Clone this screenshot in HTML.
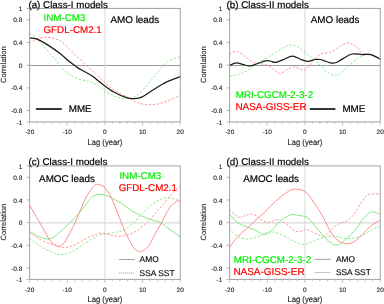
<!DOCTYPE html>
<html><head><meta charset="utf-8"><style>
html,body{margin:0;padding:0;background:#fff;width:384px;height:304px;overflow:hidden}
svg{display:block;will-change:transform}
text{font-family:"Liberation Sans",sans-serif;text-rendering:geometricPrecision}
.mt{font-size:9.8px;stroke-width:0.2px}
.mt2{font-size:9.85px;stroke-width:0.2px}
.mt3{font-size:9.95px;stroke-width:0.2px}
.lg{font-size:8.4px;stroke-width:0.15px}
.tk{font-size:6.5px;fill:#222;stroke:#222;stroke-width:0.12px}
.al{font-size:8.2px;fill:#222;stroke:#222;stroke-width:0.15px}
.al2{font-size:7.7px;fill:#222;stroke:#222;stroke-width:0.1px}
</style></head><body>
<svg width="384" height="304" viewBox="0 0 384 304">
<line x1="29.6" y1="65.5" x2="180.2" y2="65.5" stroke="#9a9a9a" stroke-width="1"/>
<line x1="104.89999999999999" y1="8.4" x2="104.89999999999999" y2="121.9" stroke="#d8d8d8" stroke-width="1"/>
<line x1="229.6" y1="65.5" x2="380.2" y2="65.5" stroke="#9a9a9a" stroke-width="1"/>
<line x1="304.9" y1="8.4" x2="304.9" y2="121.9" stroke="#d8d8d8" stroke-width="1"/>
<line x1="29.6" y1="222.9" x2="180.2" y2="222.9" stroke="#d0d0d0" stroke-width="1"/>
<line x1="104.89999999999999" y1="165.9" x2="104.89999999999999" y2="279.4" stroke="#d8d8d8" stroke-width="1"/>
<line x1="229.6" y1="222.9" x2="380.2" y2="222.9" stroke="#d0d0d0" stroke-width="1"/>
<line x1="304.9" y1="165.9" x2="304.9" y2="279.4" stroke="#d8d8d8" stroke-width="1"/>
<path d="M29.50 33.10 C30.63 33.97 33.42 35.52 36.30 38.30 C39.17 41.08 43.63 46.32 46.75 49.80 C49.87 53.28 52.58 56.33 55.00 59.20 C57.42 62.07 59.08 64.60 61.30 67.00 C63.52 69.40 65.39 71.60 68.30 73.60 C71.21 75.60 75.27 77.68 78.75 79.00 C82.23 80.32 86.08 80.47 89.20 81.50 C92.33 82.53 94.73 83.53 97.50 85.20 C100.27 86.87 102.67 89.58 105.80 91.50 C108.92 93.42 112.77 95.49 116.25 96.70 C119.73 97.91 123.92 98.58 126.70 98.75 C129.47 98.92 130.40 98.95 132.90 97.70 C135.40 96.45 138.15 94.75 141.70 91.25 C145.25 87.75 150.38 81.21 154.20 76.70 C158.02 72.19 161.97 66.90 164.60 64.20 C167.23 61.50 167.35 61.75 170.00 60.50 C172.65 59.25 178.75 57.33 180.50 56.70" fill="none" stroke="#8aea8a" stroke-width="1.0" stroke-dasharray="2.3 1.7" stroke-linejoin="round" stroke-opacity="1"/>
<path d="M29.50 43.60 C30.63 42.90 33.42 40.45 36.30 39.40 C39.17 38.35 43.27 37.30 46.75 37.30 C50.23 37.30 54.49 38.45 57.20 39.40 C59.91 40.35 60.87 41.25 63.00 43.00 C65.13 44.75 67.52 47.55 70.00 49.90 C72.48 52.25 75.27 54.58 77.90 57.10 C80.53 59.62 83.17 62.48 85.80 65.00 C88.43 67.52 91.07 69.78 93.70 72.20 C96.33 74.62 99.22 77.28 101.60 79.50 C103.98 81.72 105.56 83.50 108.00 85.50 C110.44 87.50 113.13 89.60 116.25 91.50 C119.37 93.40 123.16 95.03 126.70 96.90 C130.24 98.77 133.62 101.38 137.50 102.70 C141.38 104.02 145.83 104.80 150.00 104.80 C154.17 104.80 157.42 104.27 162.50 102.70 C167.58 101.13 177.50 96.62 180.50 95.40" fill="none" stroke="#ff9494" stroke-width="1.0" stroke-dasharray="2.3 1.7" stroke-linejoin="round" stroke-opacity="1"/>
<path d="M29.50 38.20 C30.63 38.32 33.08 37.67 36.30 38.90 C39.52 40.13 44.63 43.00 48.80 45.60 C52.97 48.20 58.05 51.97 61.30 54.50 C64.55 57.03 66.18 59.05 68.30 60.80 C70.42 62.55 72.40 63.82 74.00 65.00 C75.60 66.18 75.93 66.70 77.90 67.90 C79.87 69.10 83.28 70.77 85.80 72.20 C88.32 73.63 90.35 74.60 93.00 76.50 C95.65 78.40 98.17 80.97 101.70 83.60 C105.23 86.23 110.03 89.95 114.20 92.30 C118.37 94.65 123.40 96.65 126.70 97.70 C130.00 98.75 131.50 98.70 134.00 98.60 C136.50 98.50 138.33 98.67 141.70 97.10 C145.07 95.53 150.03 91.73 154.20 89.20 C158.37 86.67 162.32 83.98 166.70 81.90 C171.08 79.82 178.20 77.57 180.50 76.70" fill="none" stroke="#1c1c1c" stroke-width="1.25" stroke-linejoin="round" stroke-opacity="1"/>
<path d="M229.50 76.25 C231.33 75.83 237.28 74.86 240.50 73.75 C243.72 72.64 246.02 71.34 248.80 69.60 C251.58 67.86 253.67 65.60 257.20 63.30 C260.73 61.00 266.55 57.82 270.00 55.80 C273.45 53.78 275.27 52.73 277.90 51.20 C280.53 49.67 283.62 47.63 285.80 46.60 C287.98 45.57 289.03 45.00 291.00 45.00 C292.97 45.00 295.40 45.47 297.60 46.60 C299.80 47.73 302.00 50.05 304.20 51.80 C306.40 53.55 308.38 55.12 310.80 57.10 C313.22 59.08 316.33 61.48 318.70 63.70 C321.07 65.92 323.03 68.68 325.00 70.40 C326.97 72.12 328.77 73.18 330.50 74.00 C332.23 74.82 333.73 75.37 335.40 75.30 C337.07 75.23 338.77 74.68 340.50 73.60 C342.23 72.52 343.18 71.20 345.80 68.80 C348.43 66.40 353.12 61.57 356.25 59.20 C359.38 56.83 361.83 55.37 364.60 54.60 C367.38 53.83 370.25 53.83 372.90 54.60 C375.55 55.37 379.23 58.43 380.50 59.20" fill="none" stroke="#8aea8a" stroke-width="1.0" stroke-dasharray="2.3 1.7" stroke-linejoin="round" stroke-opacity="1"/>
<path d="M229.50 54.60 C230.63 54.04 233.77 51.02 236.30 51.25 C238.83 51.48 241.92 54.16 244.70 56.00 C247.48 57.84 250.23 61.01 253.00 62.30 C255.77 63.59 258.47 63.08 261.30 63.75 C264.13 64.42 267.67 65.11 270.00 66.30 C272.33 67.49 273.55 69.70 275.30 70.90 C277.05 72.10 278.53 73.72 280.50 73.50 C282.47 73.28 284.90 70.68 287.10 69.60 C289.30 68.52 291.72 67.18 293.70 67.00 C295.68 66.82 297.25 67.95 299.00 68.50 C300.75 69.05 302.45 70.77 304.20 70.30 C305.95 69.83 307.75 67.57 309.50 65.70 C311.25 63.83 312.82 61.05 314.70 59.10 C316.58 57.15 318.04 55.20 320.80 54.00 C323.56 52.80 328.12 53.12 331.25 51.90 C334.38 50.68 336.83 48.20 339.60 46.70 C342.38 45.20 345.12 42.90 347.90 42.90 C350.67 42.90 353.82 45.03 356.25 46.70 C358.68 48.37 360.07 51.58 362.50 52.90 C364.93 54.22 367.80 53.55 370.80 54.60 C373.80 55.65 378.88 58.43 380.50 59.20" fill="none" stroke="#ff9494" stroke-width="1.0" stroke-dasharray="2.3 1.7" stroke-linejoin="round" stroke-opacity="1"/>
<path d="M229.50 65.40 C230.63 64.98 234.12 63.07 236.30 62.90 C238.48 62.73 240.33 63.88 242.60 64.40 C244.87 64.92 247.47 66.11 249.90 66.00 C252.33 65.89 254.60 64.62 257.20 63.75 C259.80 62.88 263.37 61.26 265.50 60.80 C267.63 60.34 268.32 60.73 270.00 61.00 C271.68 61.27 273.40 62.62 275.60 62.40 C277.80 62.18 280.40 60.77 283.20 59.70 C286.00 58.63 289.33 56.00 292.40 56.00 C295.47 56.00 298.97 58.82 301.60 59.70 C304.23 60.58 306.02 61.33 308.20 61.30 C310.38 61.27 312.73 59.80 314.70 59.50 C316.67 59.20 318.28 59.25 320.00 59.50 C321.72 59.75 323.42 60.48 325.00 61.00 C326.58 61.52 328.12 62.23 329.50 62.60 C330.88 62.97 331.97 63.30 333.30 63.20 C334.63 63.10 336.10 62.63 337.50 62.00 C338.90 61.37 339.28 60.73 341.70 59.40 C344.12 58.07 348.53 54.80 352.00 54.00 C355.47 53.20 359.37 54.50 362.50 54.60 C365.63 54.70 367.80 53.83 370.80 54.60 C373.80 55.37 378.88 58.43 380.50 59.20" fill="none" stroke="#1c1c1c" stroke-width="1.25" stroke-linejoin="round" stroke-opacity="1"/>
<path d="M29.50 238.50 C31.33 239.79 36.93 244.05 40.50 246.25 C44.07 248.45 47.43 250.31 50.90 251.70 C54.37 253.09 57.82 254.60 61.30 254.60 C64.77 254.60 67.92 253.51 71.75 251.70 C75.58 249.89 80.08 246.37 84.25 243.75 C88.42 241.13 94.12 237.51 96.75 236.00 C99.38 234.49 98.14 235.10 100.00 234.70 C101.86 234.30 105.27 234.00 107.90 233.60 C110.53 233.20 112.90 233.03 115.80 232.30 C118.70 231.57 122.13 231.03 125.30 229.20 C128.47 227.37 131.90 223.93 134.80 221.30 C137.70 218.67 140.07 215.98 142.70 213.40 C145.33 210.82 148.33 207.80 150.60 205.80 C152.87 203.80 154.30 202.57 156.30 201.40 C158.30 200.23 160.67 199.42 162.60 198.80 C164.53 198.18 166.13 197.70 167.90 197.70 C169.67 197.70 171.10 198.23 173.20 198.80 C175.30 199.37 179.28 200.72 180.50 201.10" fill="none" stroke="#8aea8a" stroke-width="1.0" stroke-dasharray="2.3 1.7" stroke-linejoin="round" stroke-opacity="1"/>
<path d="M29.50 232.30 C31.33 233.52 36.58 237.52 40.50 239.60 C44.42 241.68 49.18 243.48 53.00 244.80 C56.82 246.12 59.93 247.40 63.40 247.50 C66.87 247.60 69.98 246.90 73.80 245.40 C77.62 243.90 82.47 240.40 86.30 238.50 C90.12 236.60 93.97 234.88 96.75 234.00 C99.53 233.12 100.88 233.08 103.00 233.20 C105.12 233.32 106.83 234.18 109.50 234.70 C112.17 235.22 115.85 236.30 119.00 236.30 C122.15 236.30 125.25 235.75 128.40 234.70 C131.55 233.65 134.73 232.10 137.90 230.00 C141.07 227.90 144.50 224.87 147.40 222.10 C150.30 219.33 153.20 215.72 155.30 213.40 C157.40 211.08 158.63 209.77 160.00 208.20 C161.37 206.63 161.77 206.12 163.50 204.00 C165.23 201.88 168.33 197.90 170.40 195.50 C172.47 193.10 174.22 191.05 175.90 189.60 C177.58 188.15 179.73 187.27 180.50 186.80" fill="none" stroke="#ff9494" stroke-width="1.0" stroke-dasharray="2.3 1.7" stroke-linejoin="round" stroke-opacity="1"/>
<path d="M29.50 231.25 C30.98 232.12 35.82 235.28 38.40 236.50 C40.98 237.72 42.92 238.27 45.00 238.60 C47.08 238.93 48.87 239.20 50.90 238.50 C52.93 237.80 54.77 236.32 57.20 234.40 C59.63 232.48 62.73 229.61 65.50 227.00 C68.27 224.39 71.02 221.68 73.80 218.75 C76.58 215.82 79.42 212.78 82.20 209.40 C84.98 206.03 88.08 200.97 90.50 198.50 C92.92 196.03 95.00 195.30 96.75 194.60 C98.50 193.90 99.62 194.23 101.00 194.30 C102.38 194.37 103.35 194.47 105.00 195.00 C106.65 195.53 108.15 196.08 110.90 197.50 C113.65 198.92 118.11 201.33 121.50 203.50 C124.89 205.67 127.88 208.42 131.25 210.50 C134.62 212.58 138.57 214.52 141.70 216.00 C144.82 217.48 146.87 218.30 150.00 219.40 C153.13 220.50 157.33 221.02 160.50 222.60 C163.67 224.18 165.67 226.50 169.00 228.90 C172.33 231.30 178.58 235.65 180.50 237.00" fill="none" stroke="#80e880" stroke-width="1.0" stroke-linejoin="round" stroke-opacity="1"/>
<path d="M29.50 205.00 C30.63 206.95 33.77 212.32 36.30 216.70 C38.83 221.07 42.27 227.08 44.70 231.25 C47.13 235.42 48.65 239.20 50.90 241.70 C53.15 244.20 56.12 245.91 58.20 246.25 C60.28 246.59 61.48 245.91 63.40 243.75 C65.32 241.59 67.62 237.12 69.70 233.30 C71.78 229.48 74.00 224.97 75.90 220.80 C77.80 216.63 79.37 212.27 81.10 208.30 C82.83 204.33 84.48 200.33 86.30 197.00 C88.12 193.67 90.55 190.25 92.00 188.30 C93.45 186.35 94.03 185.98 95.00 185.30 C95.97 184.62 96.80 184.25 97.80 184.20 C98.80 184.15 99.80 184.37 101.00 185.00 C102.20 185.63 103.50 186.30 105.00 188.00 C106.50 189.70 108.50 192.57 110.00 195.20 C111.50 197.83 112.72 200.83 114.00 203.80 C115.28 206.77 116.53 210.00 117.70 213.00 C118.87 216.00 119.73 218.58 121.00 221.80 C122.27 225.02 123.80 228.98 125.30 232.30 C126.80 235.62 128.67 239.22 130.00 241.70 C131.33 244.18 132.22 245.77 133.30 247.20 C134.38 248.63 135.28 249.57 136.50 250.30 C137.72 251.03 138.70 252.17 140.60 251.60 C142.50 251.03 145.63 249.53 147.90 246.90 C150.17 244.27 152.02 239.70 154.20 235.80 C156.38 231.90 159.00 227.22 161.00 223.50 C163.00 219.78 164.53 216.45 166.20 213.50 C167.87 210.55 169.32 207.78 171.00 205.80 C172.68 203.82 174.72 202.45 176.30 201.60 C177.88 200.75 179.80 200.85 180.50 200.70" fill="none" stroke="#ff8a8a" stroke-width="1.0" stroke-linejoin="round" stroke-opacity="1"/>
<path d="M229.50 228.40 C230.29 229.32 232.42 232.33 234.25 233.90 C236.08 235.47 238.42 236.95 240.50 237.80 C242.58 238.65 244.40 239.00 246.75 239.00 C249.10 239.00 251.99 238.52 254.60 237.80 C257.21 237.08 260.07 235.68 262.40 234.70 C264.73 233.72 266.52 232.30 268.60 231.90 C270.68 231.50 272.82 231.83 274.90 232.30 C276.98 232.77 278.92 233.78 281.10 234.70 C283.28 235.62 286.08 236.82 288.00 237.80 C289.92 238.78 290.60 239.60 292.60 240.60 C294.60 241.60 297.78 243.20 300.00 243.80 C302.22 244.40 303.43 244.75 305.90 244.20 C308.37 243.65 311.83 241.62 314.80 240.50 C317.77 239.38 320.75 238.23 323.70 237.50 C326.65 236.77 329.50 236.03 332.50 236.10 C335.50 236.17 338.45 237.50 341.70 237.90 C344.95 238.30 348.53 238.92 352.00 238.50 C355.47 238.08 359.37 236.78 362.50 235.40 C365.63 234.02 367.80 231.77 370.80 230.20 C373.80 228.63 378.88 226.70 380.50 226.00" fill="none" stroke="#8aea8a" stroke-width="1.0" stroke-dasharray="2.3 1.7" stroke-linejoin="round" stroke-opacity="1"/>
<path d="M229.50 209.50 C230.29 210.25 232.67 212.72 234.25 214.00 C235.83 215.28 237.18 216.93 239.00 217.20 C240.82 217.47 243.13 216.13 245.20 215.60 C247.27 215.07 249.58 214.00 251.40 214.00 C253.22 214.00 254.27 214.50 256.10 215.60 C257.93 216.70 260.32 219.50 262.40 220.60 C264.48 221.70 266.27 222.33 268.60 222.20 C270.93 222.07 274.32 220.07 276.40 219.80 C278.48 219.53 279.17 219.68 281.10 220.60 C283.03 221.52 285.73 223.57 288.00 225.30 C290.27 227.03 292.70 230.00 294.70 231.00 C296.70 232.00 298.13 231.57 300.00 231.30 C301.87 231.03 303.93 229.35 305.90 229.40 C307.87 229.45 309.82 230.73 311.80 231.60 C313.78 232.47 315.82 233.85 317.80 234.60 C319.78 235.35 321.73 236.60 323.70 236.10 C325.67 235.60 327.63 233.33 329.60 231.60 C331.57 229.87 333.28 227.22 335.50 225.70 C337.72 224.18 340.83 223.40 342.90 222.50 C344.97 221.60 346.22 221.47 347.90 220.30 C349.58 219.13 351.48 217.30 353.00 215.50 C354.52 213.70 355.42 211.95 357.00 209.50 C358.58 207.05 360.92 203.08 362.50 200.80 C364.08 198.52 365.25 196.90 366.50 195.80 C367.75 194.70 368.58 194.52 370.00 194.20 C371.42 193.88 373.25 193.93 375.00 193.90 C376.75 193.87 379.58 193.98 380.50 194.00" fill="none" stroke="#ff9494" stroke-width="1.0" stroke-dasharray="2.3 1.7" stroke-linejoin="round" stroke-opacity="1"/>
<path d="M229.50 214.00 C230.82 215.42 234.53 220.35 237.40 222.50 C240.28 224.65 243.88 225.65 246.75 226.90 C249.62 228.15 251.99 228.78 254.60 230.00 C257.21 231.22 260.50 233.48 262.40 234.20 C264.30 234.92 264.73 234.67 266.00 234.30 C267.27 233.93 268.78 232.98 270.00 232.00 C271.22 231.02 271.70 230.17 273.30 228.40 C274.90 226.63 277.15 223.48 279.60 221.40 C282.05 219.32 285.77 217.03 288.00 215.90 C290.23 214.77 291.00 214.63 293.00 214.60 C295.00 214.57 297.60 215.20 300.00 215.70 C302.40 216.20 304.93 215.93 307.40 217.60 C309.87 219.27 312.33 222.87 314.80 225.70 C317.27 228.53 319.73 231.88 322.20 234.60 C324.67 237.32 327.13 240.27 329.60 242.00 C332.07 243.73 334.53 245.25 337.00 245.00 C339.47 244.75 341.53 242.79 344.40 240.50 C347.27 238.21 351.18 234.70 354.20 231.25 C357.22 227.80 359.73 223.01 362.50 219.80 C365.27 216.59 367.80 212.93 370.80 212.00 C373.80 211.07 378.88 213.83 380.50 214.20" fill="none" stroke="#80e880" stroke-width="1.0" stroke-linejoin="round" stroke-opacity="1"/>
<path d="M229.50 247.50 C230.82 245.75 234.53 240.18 237.40 237.00 C240.28 233.82 243.63 231.27 246.75 228.40 C249.87 225.53 253.24 222.40 256.10 219.80 C258.96 217.20 261.29 215.27 263.90 212.80 C266.51 210.33 269.07 207.55 271.75 205.00 C274.43 202.45 276.88 199.97 280.00 197.50 C283.12 195.03 287.71 191.58 290.50 190.20 C293.29 188.82 294.67 189.15 296.75 189.20 C298.83 189.25 301.07 189.63 303.00 190.50 C304.93 191.37 306.33 192.15 308.30 194.40 C310.27 196.65 312.48 200.50 314.80 204.00 C317.12 207.50 319.73 211.05 322.20 215.40 C324.67 219.75 327.13 226.03 329.60 230.10 C332.07 234.17 334.30 237.53 337.00 239.80 C339.70 242.08 342.93 243.43 345.80 243.75 C348.67 244.07 351.42 243.26 354.20 241.70 C356.98 240.14 359.73 237.02 362.50 234.40 C365.27 231.78 367.80 228.43 370.80 226.00 C373.80 223.57 378.88 220.83 380.50 219.80" fill="none" stroke="#ff8a8a" stroke-width="1.0" stroke-linejoin="round" stroke-opacity="1"/>
<rect x="29.6" y="8.4" width="150.6" height="113.5" fill="none" stroke="#a0a0a0" stroke-width="1"/>
<line x1="26.6" y1="8.40" x2="29.6" y2="8.40" stroke="#b0b0b0" stroke-width="1"/>
<line x1="26.6" y1="19.75" x2="29.6" y2="19.75" stroke="#b0b0b0" stroke-width="1"/>
<line x1="26.6" y1="42.45" x2="29.6" y2="42.45" stroke="#b0b0b0" stroke-width="1"/>
<line x1="26.6" y1="65.15" x2="29.6" y2="65.15" stroke="#b0b0b0" stroke-width="1"/>
<line x1="26.6" y1="87.85" x2="29.6" y2="87.85" stroke="#b0b0b0" stroke-width="1"/>
<line x1="26.6" y1="110.55" x2="29.6" y2="110.55" stroke="#b0b0b0" stroke-width="1"/>
<line x1="26.6" y1="121.90" x2="29.6" y2="121.90" stroke="#b0b0b0" stroke-width="1"/>
<line x1="29.60" y1="121.9" x2="29.60" y2="125.4" stroke="#b8b8b8" stroke-width="0.8"/>
<line x1="37.13" y1="121.9" x2="37.13" y2="123.9" stroke="#b8b8b8" stroke-width="0.8"/>
<line x1="44.66" y1="121.9" x2="44.66" y2="123.9" stroke="#b8b8b8" stroke-width="0.8"/>
<line x1="52.19" y1="121.9" x2="52.19" y2="123.9" stroke="#b8b8b8" stroke-width="0.8"/>
<line x1="59.72" y1="121.9" x2="59.72" y2="123.9" stroke="#b8b8b8" stroke-width="0.8"/>
<line x1="67.25" y1="121.9" x2="67.25" y2="125.4" stroke="#b8b8b8" stroke-width="0.8"/>
<line x1="74.78" y1="121.9" x2="74.78" y2="123.9" stroke="#b8b8b8" stroke-width="0.8"/>
<line x1="82.31" y1="121.9" x2="82.31" y2="123.9" stroke="#b8b8b8" stroke-width="0.8"/>
<line x1="89.84" y1="121.9" x2="89.84" y2="123.9" stroke="#b8b8b8" stroke-width="0.8"/>
<line x1="97.37" y1="121.9" x2="97.37" y2="123.9" stroke="#b8b8b8" stroke-width="0.8"/>
<line x1="104.90" y1="121.9" x2="104.90" y2="125.4" stroke="#b8b8b8" stroke-width="0.8"/>
<line x1="112.43" y1="121.9" x2="112.43" y2="123.9" stroke="#b8b8b8" stroke-width="0.8"/>
<line x1="119.96" y1="121.9" x2="119.96" y2="123.9" stroke="#b8b8b8" stroke-width="0.8"/>
<line x1="127.49" y1="121.9" x2="127.49" y2="123.9" stroke="#b8b8b8" stroke-width="0.8"/>
<line x1="135.02" y1="121.9" x2="135.02" y2="123.9" stroke="#b8b8b8" stroke-width="0.8"/>
<line x1="142.55" y1="121.9" x2="142.55" y2="125.4" stroke="#b8b8b8" stroke-width="0.8"/>
<line x1="150.08" y1="121.9" x2="150.08" y2="123.9" stroke="#b8b8b8" stroke-width="0.8"/>
<line x1="157.61" y1="121.9" x2="157.61" y2="123.9" stroke="#b8b8b8" stroke-width="0.8"/>
<line x1="165.14" y1="121.9" x2="165.14" y2="123.9" stroke="#b8b8b8" stroke-width="0.8"/>
<line x1="172.67" y1="121.9" x2="172.67" y2="123.9" stroke="#b8b8b8" stroke-width="0.8"/>
<line x1="180.20" y1="121.9" x2="180.20" y2="125.4" stroke="#b8b8b8" stroke-width="0.8"/>
<text x="22.30" y="11.00" class="tk" text-anchor="end">1</text>
<text x="22.30" y="22.35" class="tk" text-anchor="end">0.8</text>
<text x="22.30" y="45.05" class="tk" text-anchor="end">0.4</text>
<text x="22.30" y="67.75" class="tk" text-anchor="end">0</text>
<text x="22.30" y="90.45" class="tk" text-anchor="end">-0.4</text>
<text x="22.30" y="113.15" class="tk" text-anchor="end">-0.8</text>
<text x="22.30" y="124.50" class="tk" text-anchor="end">-1</text>
<text x="29.60" y="134.30" class="tk" text-anchor="middle">-20</text>
<text x="67.25" y="134.30" class="tk" text-anchor="middle">-10</text>
<text x="104.90" y="134.30" class="tk" text-anchor="middle">0</text>
<text x="142.55" y="134.30" class="tk" text-anchor="middle">10</text>
<text x="180.20" y="134.30" class="tk" text-anchor="middle">20</text>
<text x="104.90" y="144.60" class="al" text-anchor="middle" textLength="34.8" lengthAdjust="spacingAndGlyphs">Lag (year)</text>
<text x="0" y="0" class="al2" text-anchor="middle" textLength="36.5" lengthAdjust="spacingAndGlyphs" transform="translate(6.40,64.65) rotate(-90)">Correlation</text>
<rect x="229.6" y="8.4" width="150.6" height="113.5" fill="none" stroke="#a0a0a0" stroke-width="1"/>
<line x1="226.6" y1="8.40" x2="229.6" y2="8.40" stroke="#b0b0b0" stroke-width="1"/>
<line x1="226.6" y1="19.75" x2="229.6" y2="19.75" stroke="#b0b0b0" stroke-width="1"/>
<line x1="226.6" y1="42.45" x2="229.6" y2="42.45" stroke="#b0b0b0" stroke-width="1"/>
<line x1="226.6" y1="65.15" x2="229.6" y2="65.15" stroke="#b0b0b0" stroke-width="1"/>
<line x1="226.6" y1="87.85" x2="229.6" y2="87.85" stroke="#b0b0b0" stroke-width="1"/>
<line x1="226.6" y1="110.55" x2="229.6" y2="110.55" stroke="#b0b0b0" stroke-width="1"/>
<line x1="226.6" y1="121.90" x2="229.6" y2="121.90" stroke="#b0b0b0" stroke-width="1"/>
<line x1="229.60" y1="121.9" x2="229.60" y2="125.4" stroke="#b8b8b8" stroke-width="0.8"/>
<line x1="237.13" y1="121.9" x2="237.13" y2="123.9" stroke="#b8b8b8" stroke-width="0.8"/>
<line x1="244.66" y1="121.9" x2="244.66" y2="123.9" stroke="#b8b8b8" stroke-width="0.8"/>
<line x1="252.19" y1="121.9" x2="252.19" y2="123.9" stroke="#b8b8b8" stroke-width="0.8"/>
<line x1="259.72" y1="121.9" x2="259.72" y2="123.9" stroke="#b8b8b8" stroke-width="0.8"/>
<line x1="267.25" y1="121.9" x2="267.25" y2="125.4" stroke="#b8b8b8" stroke-width="0.8"/>
<line x1="274.78" y1="121.9" x2="274.78" y2="123.9" stroke="#b8b8b8" stroke-width="0.8"/>
<line x1="282.31" y1="121.9" x2="282.31" y2="123.9" stroke="#b8b8b8" stroke-width="0.8"/>
<line x1="289.84" y1="121.9" x2="289.84" y2="123.9" stroke="#b8b8b8" stroke-width="0.8"/>
<line x1="297.37" y1="121.9" x2="297.37" y2="123.9" stroke="#b8b8b8" stroke-width="0.8"/>
<line x1="304.90" y1="121.9" x2="304.90" y2="125.4" stroke="#b8b8b8" stroke-width="0.8"/>
<line x1="312.43" y1="121.9" x2="312.43" y2="123.9" stroke="#b8b8b8" stroke-width="0.8"/>
<line x1="319.96" y1="121.9" x2="319.96" y2="123.9" stroke="#b8b8b8" stroke-width="0.8"/>
<line x1="327.49" y1="121.9" x2="327.49" y2="123.9" stroke="#b8b8b8" stroke-width="0.8"/>
<line x1="335.02" y1="121.9" x2="335.02" y2="123.9" stroke="#b8b8b8" stroke-width="0.8"/>
<line x1="342.55" y1="121.9" x2="342.55" y2="125.4" stroke="#b8b8b8" stroke-width="0.8"/>
<line x1="350.08" y1="121.9" x2="350.08" y2="123.9" stroke="#b8b8b8" stroke-width="0.8"/>
<line x1="357.61" y1="121.9" x2="357.61" y2="123.9" stroke="#b8b8b8" stroke-width="0.8"/>
<line x1="365.14" y1="121.9" x2="365.14" y2="123.9" stroke="#b8b8b8" stroke-width="0.8"/>
<line x1="372.67" y1="121.9" x2="372.67" y2="123.9" stroke="#b8b8b8" stroke-width="0.8"/>
<line x1="380.20" y1="121.9" x2="380.20" y2="125.4" stroke="#b8b8b8" stroke-width="0.8"/>
<text x="222.30" y="11.00" class="tk" text-anchor="end">1</text>
<text x="222.30" y="22.35" class="tk" text-anchor="end">0.8</text>
<text x="222.30" y="45.05" class="tk" text-anchor="end">0.4</text>
<text x="222.30" y="67.75" class="tk" text-anchor="end">0</text>
<text x="222.30" y="90.45" class="tk" text-anchor="end">-0.4</text>
<text x="222.30" y="113.15" class="tk" text-anchor="end">-0.8</text>
<text x="222.30" y="124.50" class="tk" text-anchor="end">-1</text>
<text x="229.60" y="134.30" class="tk" text-anchor="middle">-20</text>
<text x="267.25" y="134.30" class="tk" text-anchor="middle">-10</text>
<text x="304.90" y="134.30" class="tk" text-anchor="middle">0</text>
<text x="342.55" y="134.30" class="tk" text-anchor="middle">10</text>
<text x="380.20" y="134.30" class="tk" text-anchor="middle">20</text>
<text x="304.90" y="144.60" class="al" text-anchor="middle" textLength="34.8" lengthAdjust="spacingAndGlyphs">Lag (year)</text>
<text x="0" y="0" class="al2" text-anchor="middle" textLength="36.5" lengthAdjust="spacingAndGlyphs" transform="translate(206.40,64.65) rotate(-90)">Correlation</text>
<rect x="29.6" y="165.9" width="150.6" height="113.49999999999997" fill="none" stroke="#a0a0a0" stroke-width="1"/>
<line x1="26.6" y1="165.90" x2="29.6" y2="165.90" stroke="#b0b0b0" stroke-width="1"/>
<line x1="26.6" y1="177.25" x2="29.6" y2="177.25" stroke="#b0b0b0" stroke-width="1"/>
<line x1="26.6" y1="199.95" x2="29.6" y2="199.95" stroke="#b0b0b0" stroke-width="1"/>
<line x1="26.6" y1="222.65" x2="29.6" y2="222.65" stroke="#b0b0b0" stroke-width="1"/>
<line x1="26.6" y1="245.35" x2="29.6" y2="245.35" stroke="#b0b0b0" stroke-width="1"/>
<line x1="26.6" y1="268.05" x2="29.6" y2="268.05" stroke="#b0b0b0" stroke-width="1"/>
<line x1="26.6" y1="279.40" x2="29.6" y2="279.40" stroke="#b0b0b0" stroke-width="1"/>
<line x1="29.60" y1="279.4" x2="29.60" y2="282.9" stroke="#b8b8b8" stroke-width="0.8"/>
<line x1="37.13" y1="279.4" x2="37.13" y2="281.4" stroke="#b8b8b8" stroke-width="0.8"/>
<line x1="44.66" y1="279.4" x2="44.66" y2="281.4" stroke="#b8b8b8" stroke-width="0.8"/>
<line x1="52.19" y1="279.4" x2="52.19" y2="281.4" stroke="#b8b8b8" stroke-width="0.8"/>
<line x1="59.72" y1="279.4" x2="59.72" y2="281.4" stroke="#b8b8b8" stroke-width="0.8"/>
<line x1="67.25" y1="279.4" x2="67.25" y2="282.9" stroke="#b8b8b8" stroke-width="0.8"/>
<line x1="74.78" y1="279.4" x2="74.78" y2="281.4" stroke="#b8b8b8" stroke-width="0.8"/>
<line x1="82.31" y1="279.4" x2="82.31" y2="281.4" stroke="#b8b8b8" stroke-width="0.8"/>
<line x1="89.84" y1="279.4" x2="89.84" y2="281.4" stroke="#b8b8b8" stroke-width="0.8"/>
<line x1="97.37" y1="279.4" x2="97.37" y2="281.4" stroke="#b8b8b8" stroke-width="0.8"/>
<line x1="104.90" y1="279.4" x2="104.90" y2="282.9" stroke="#b8b8b8" stroke-width="0.8"/>
<line x1="112.43" y1="279.4" x2="112.43" y2="281.4" stroke="#b8b8b8" stroke-width="0.8"/>
<line x1="119.96" y1="279.4" x2="119.96" y2="281.4" stroke="#b8b8b8" stroke-width="0.8"/>
<line x1="127.49" y1="279.4" x2="127.49" y2="281.4" stroke="#b8b8b8" stroke-width="0.8"/>
<line x1="135.02" y1="279.4" x2="135.02" y2="281.4" stroke="#b8b8b8" stroke-width="0.8"/>
<line x1="142.55" y1="279.4" x2="142.55" y2="282.9" stroke="#b8b8b8" stroke-width="0.8"/>
<line x1="150.08" y1="279.4" x2="150.08" y2="281.4" stroke="#b8b8b8" stroke-width="0.8"/>
<line x1="157.61" y1="279.4" x2="157.61" y2="281.4" stroke="#b8b8b8" stroke-width="0.8"/>
<line x1="165.14" y1="279.4" x2="165.14" y2="281.4" stroke="#b8b8b8" stroke-width="0.8"/>
<line x1="172.67" y1="279.4" x2="172.67" y2="281.4" stroke="#b8b8b8" stroke-width="0.8"/>
<line x1="180.20" y1="279.4" x2="180.20" y2="282.9" stroke="#b8b8b8" stroke-width="0.8"/>
<text x="22.30" y="168.50" class="tk" text-anchor="end">1</text>
<text x="22.30" y="179.85" class="tk" text-anchor="end">0.8</text>
<text x="22.30" y="202.55" class="tk" text-anchor="end">0.4</text>
<text x="22.30" y="225.25" class="tk" text-anchor="end">0</text>
<text x="22.30" y="247.95" class="tk" text-anchor="end">-0.4</text>
<text x="22.30" y="270.65" class="tk" text-anchor="end">-0.8</text>
<text x="22.30" y="282.00" class="tk" text-anchor="end">-1</text>
<text x="29.60" y="291.80" class="tk" text-anchor="middle">-20</text>
<text x="67.25" y="291.80" class="tk" text-anchor="middle">-10</text>
<text x="104.90" y="291.80" class="tk" text-anchor="middle">0</text>
<text x="142.55" y="291.80" class="tk" text-anchor="middle">10</text>
<text x="180.20" y="291.80" class="tk" text-anchor="middle">20</text>
<text x="104.90" y="302.10" class="al" text-anchor="middle" textLength="34.8" lengthAdjust="spacingAndGlyphs">Lag (year)</text>
<text x="0" y="0" class="al2" text-anchor="middle" textLength="36.5" lengthAdjust="spacingAndGlyphs" transform="translate(6.40,222.15) rotate(-90)">Correlation</text>
<rect x="229.6" y="165.9" width="150.6" height="113.49999999999997" fill="none" stroke="#a0a0a0" stroke-width="1"/>
<line x1="226.6" y1="165.90" x2="229.6" y2="165.90" stroke="#b0b0b0" stroke-width="1"/>
<line x1="226.6" y1="177.25" x2="229.6" y2="177.25" stroke="#b0b0b0" stroke-width="1"/>
<line x1="226.6" y1="199.95" x2="229.6" y2="199.95" stroke="#b0b0b0" stroke-width="1"/>
<line x1="226.6" y1="222.65" x2="229.6" y2="222.65" stroke="#b0b0b0" stroke-width="1"/>
<line x1="226.6" y1="245.35" x2="229.6" y2="245.35" stroke="#b0b0b0" stroke-width="1"/>
<line x1="226.6" y1="268.05" x2="229.6" y2="268.05" stroke="#b0b0b0" stroke-width="1"/>
<line x1="226.6" y1="279.40" x2="229.6" y2="279.40" stroke="#b0b0b0" stroke-width="1"/>
<line x1="229.60" y1="279.4" x2="229.60" y2="282.9" stroke="#b8b8b8" stroke-width="0.8"/>
<line x1="237.13" y1="279.4" x2="237.13" y2="281.4" stroke="#b8b8b8" stroke-width="0.8"/>
<line x1="244.66" y1="279.4" x2="244.66" y2="281.4" stroke="#b8b8b8" stroke-width="0.8"/>
<line x1="252.19" y1="279.4" x2="252.19" y2="281.4" stroke="#b8b8b8" stroke-width="0.8"/>
<line x1="259.72" y1="279.4" x2="259.72" y2="281.4" stroke="#b8b8b8" stroke-width="0.8"/>
<line x1="267.25" y1="279.4" x2="267.25" y2="282.9" stroke="#b8b8b8" stroke-width="0.8"/>
<line x1="274.78" y1="279.4" x2="274.78" y2="281.4" stroke="#b8b8b8" stroke-width="0.8"/>
<line x1="282.31" y1="279.4" x2="282.31" y2="281.4" stroke="#b8b8b8" stroke-width="0.8"/>
<line x1="289.84" y1="279.4" x2="289.84" y2="281.4" stroke="#b8b8b8" stroke-width="0.8"/>
<line x1="297.37" y1="279.4" x2="297.37" y2="281.4" stroke="#b8b8b8" stroke-width="0.8"/>
<line x1="304.90" y1="279.4" x2="304.90" y2="282.9" stroke="#b8b8b8" stroke-width="0.8"/>
<line x1="312.43" y1="279.4" x2="312.43" y2="281.4" stroke="#b8b8b8" stroke-width="0.8"/>
<line x1="319.96" y1="279.4" x2="319.96" y2="281.4" stroke="#b8b8b8" stroke-width="0.8"/>
<line x1="327.49" y1="279.4" x2="327.49" y2="281.4" stroke="#b8b8b8" stroke-width="0.8"/>
<line x1="335.02" y1="279.4" x2="335.02" y2="281.4" stroke="#b8b8b8" stroke-width="0.8"/>
<line x1="342.55" y1="279.4" x2="342.55" y2="282.9" stroke="#b8b8b8" stroke-width="0.8"/>
<line x1="350.08" y1="279.4" x2="350.08" y2="281.4" stroke="#b8b8b8" stroke-width="0.8"/>
<line x1="357.61" y1="279.4" x2="357.61" y2="281.4" stroke="#b8b8b8" stroke-width="0.8"/>
<line x1="365.14" y1="279.4" x2="365.14" y2="281.4" stroke="#b8b8b8" stroke-width="0.8"/>
<line x1="372.67" y1="279.4" x2="372.67" y2="281.4" stroke="#b8b8b8" stroke-width="0.8"/>
<line x1="380.20" y1="279.4" x2="380.20" y2="282.9" stroke="#b8b8b8" stroke-width="0.8"/>
<text x="222.30" y="168.50" class="tk" text-anchor="end">1</text>
<text x="222.30" y="179.85" class="tk" text-anchor="end">0.8</text>
<text x="222.30" y="202.55" class="tk" text-anchor="end">0.4</text>
<text x="222.30" y="225.25" class="tk" text-anchor="end">0</text>
<text x="222.30" y="247.95" class="tk" text-anchor="end">-0.4</text>
<text x="222.30" y="270.65" class="tk" text-anchor="end">-0.8</text>
<text x="222.30" y="282.00" class="tk" text-anchor="end">-1</text>
<text x="229.60" y="291.80" class="tk" text-anchor="middle">-20</text>
<text x="267.25" y="291.80" class="tk" text-anchor="middle">-10</text>
<text x="304.90" y="291.80" class="tk" text-anchor="middle">0</text>
<text x="342.55" y="291.80" class="tk" text-anchor="middle">10</text>
<text x="380.20" y="291.80" class="tk" text-anchor="middle">20</text>
<text x="304.90" y="302.10" class="al" text-anchor="middle" textLength="34.8" lengthAdjust="spacingAndGlyphs">Lag (year)</text>
<text x="0" y="0" class="al2" text-anchor="middle" textLength="36.5" lengthAdjust="spacingAndGlyphs" transform="translate(206.40,222.15) rotate(-90)">Correlation</text>
<line x1="35.9" y1="109" x2="61.75" y2="109" stroke="#111" stroke-width="1.7"/>
<line x1="309.8" y1="109" x2="335.4" y2="109" stroke="#111" stroke-width="1.7"/>
<line x1="118.9" y1="259.5" x2="134.75" y2="259.5" stroke="#999" stroke-width="0.9"/>
<line x1="118.9" y1="273" x2="134.75" y2="273" stroke="#999" stroke-width="0.9" stroke-dasharray="1.2 0.8"/>
<line x1="314.6" y1="259.4" x2="330.8" y2="259.4" stroke="#999" stroke-width="0.9"/>
<line x1="314.6" y1="272.5" x2="330.8" y2="272.5" stroke="#999" stroke-width="0.9" stroke-dasharray="1.2 0.8"/>
<text x="28.4" y="8.1" class="mt" fill="#000" stroke="#000">(a) Class-I models</text>
<text x="226.6" y="8.1" class="mt" fill="#000" stroke="#000">(b) Class-II models</text>
<text x="28.4" y="165.4" class="mt" fill="#000" stroke="#000">(c) Class-I models</text>
<text x="226.6" y="165.4" class="mt" fill="#000" stroke="#000">(d) Class-II models</text>
<text x="43.5" y="20.7" class="mt" fill="#00f000" stroke="#00f000">INM-CM3</text>
<text x="43.5" y="33.0" class="mt" fill="#ff0000" stroke="#ff0000">GFDL-CM2.1</text>
<text x="110.5" y="23.0" class="mt2" fill="#000" stroke="#000">AMO leads</text>
<text x="68.8" y="112.3" class="mt" fill="#000" stroke="#000">MME</text>
<text x="310.8" y="23.0" class="mt2" fill="#000" stroke="#000">AMO leads</text>
<text x="235.8" y="98.4" class="mt" fill="#00f000" stroke="#00f000">MRI-CGCM-2-3-2</text>
<text x="235.4" y="110.2" class="mt3" fill="#ff0000" stroke="#ff0000">NASA-GISS-ER</text>
<text x="342.4" y="112.3" class="mt" fill="#000" stroke="#000">MME</text>
<text x="39.1" y="181.6" class="mt2" fill="#000" stroke="#000">AMOC leads</text>
<text x="119.4" y="178.6" class="mt" fill="#00f000" stroke="#00f000">INM-CM3</text>
<text x="118.7" y="190.7" class="mt" fill="#ff0000" stroke="#ff0000">GFDL-CM2.1</text>
<text x="139.6" y="262.2" class="lg" fill="#000" stroke="#000">AMO</text>
<text x="139.6" y="275.6" class="lg" fill="#000" stroke="#000">SSA SST</text>
<text x="243.2" y="181.6" class="mt2" fill="#000" stroke="#000">AMOC leads</text>
<text x="233.8" y="262.6" class="mt" fill="#00f000" stroke="#00f000">MRI-CGCM-2-3-2</text>
<text x="233.4" y="274.6" class="mt3" fill="#ff0000" stroke="#ff0000">NASA-GISS-ER</text>
<text x="335.9" y="262.0" class="lg" fill="#000" stroke="#000">AMO</text>
<text x="335.9" y="275.2" class="lg" fill="#000" stroke="#000">SSA SST</text>
</svg>
</body></html>
